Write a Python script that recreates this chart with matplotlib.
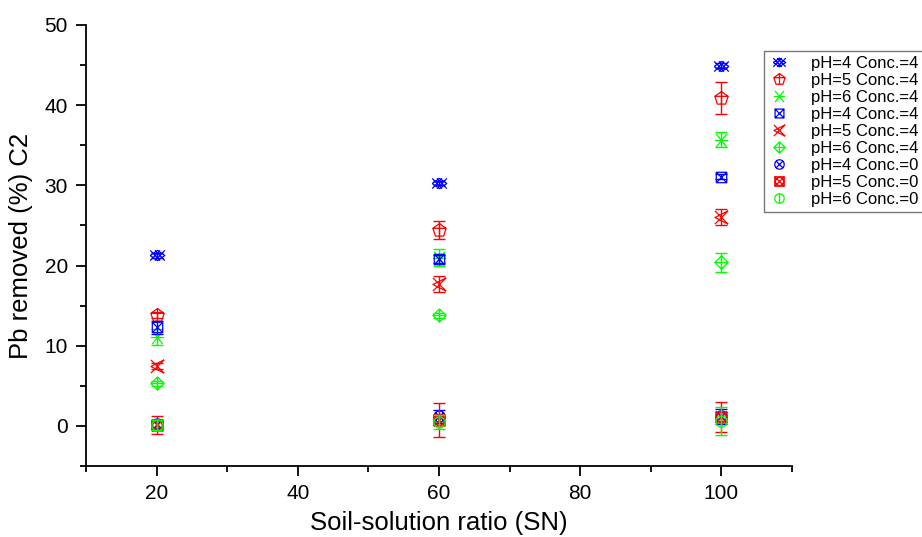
import numpy as np
import matplotlib
matplotlib.use("Agg")
import matplotlib.pyplot as plt
from matplotlib.path import Path
from matplotlib.lines import Line2D
from matplotlib.ticker import MultipleLocator

plt.rcParams['font.family'] = ['Liberation Sans', 'DejaVu Sans']

# --- data ---
ratio = [20, 60, 100]
labels = ['pH=4 Conc.=4', 'pH=5 Conc.=4', 'pH=6 Conc.=4',
          'pH=4 Conc.=4', 'pH=5 Conc.=4', 'pH=6 Conc.=4',
          'pH=4 Conc.=0', 'pH=5 Conc.=0', 'pH=6 Conc.=0']
pb_s1 = [21.3, 30.3, 44.9]
pb_s2 = [13.8, 24.4, 40.9]
pb_s3 = [11.1, 21.0, 35.7]
pb_s4 = [12.3, 20.8, 31.1]
pb_s5 = [7.5, 17.7, 26.1]
pb_s6 = [5.3, 13.8, 20.4]
pb_s7 = [0.2, 1.2, 1.2]
pb_s8 = [0.1, 0.7, 1.1]
pb_s9 = [0.1, 0.5, 0.6]
err_s1 = [0.3, 0.3, 0.3]
err_s2 = [0.4, 1.1, 2.0]
err_s3 = [1.0, 1.1, 0.9]
err_s4 = [0.8, 0.5, 0.3]
err_s5 = [0.4, 1.0, 1.0]
err_s6 = [0.3, 0.3, 1.2]
err_s7 = [0.4, 0.8, 0.9]
err_s8 = [1.1, 2.1, 1.9]
err_s9 = [0.6, 0.9, 1.7]


# --- marker shapes (Origin-like symbols) ---
def segs(lines):
    verts, codes = [], []
    for line in lines:
        for k, p in enumerate(line):
            verts.append(p)
            codes.append(Path.MOVETO if k == 0 else Path.LINETO)
    return Path(verts, codes)


def circle_pts(r=1.0, n=32):
    a = np.linspace(0, 2 * np.pi, n + 1)
    return list(zip(r * np.cos(a), r * np.sin(a)))


X = [[(-1, -1), (1, 1)], [(-1, 1), (1, -1)]]
sq = [[(-1, -1), (1, -1), (1, 1), (-1, 1), (-1, -1)]]

# double cross: two overlapping X's plus a flat diamond in the middle
m1 = segs([[(-1, -0.7), (0.35, 0.7)], [(-1, 0.7), (0.35, -0.7)],
           [(-0.35, -0.7), (1, 0.7)], [(-0.35, 0.7), (1, -0.7)],
           [(-1, 0), (0, 0.7), (1, 0), (0, -0.7), (-1, 0)]])
pent = [(np.cos(np.pi / 2 + 2 * np.pi * k / 5), np.sin(np.pi / 2 + 2 * np.pi * k / 5)) for k in range(6)]
m2 = segs([pent, [(0, 1), (0, -0.81)], [(-0.95, 0.31), (0.95, 0.31)]])
m3 = segs([[(-1, 0), (1, 0)], [(-0.8, -1), (0.8, 1)], [(-0.8, 1), (0.8, -1)]])
m4 = segs(sq + X)
m5 = segs(X + [[(1, 1), (-1, 0), (1, -1)]])
m6 = segs([[(0, 1), (1, 0), (0, -1), (-1, 0), (0, 1)], [(0, 1), (0, -1)], [(-1, 0), (1, 0)]])
m7 = segs([circle_pts(1.0)] + [[(-0.75, -0.75), (0.75, 0.75)], [(-0.75, 0.75), (0.75, -0.75)]])
m8 = segs(sq + X + [circle_pts(0.85)])
m9 = segs([circle_pts(1.0), [(0, 1), (0, -1)]])

blue, red, green = '#0000FF', '#FF0000', '#00FF00'
series = [
    (pb_s1, err_s1, m1, blue, 10.5),
    (pb_s2, err_s2, m2, red, 10),
    (pb_s3, err_s3, m3, green, 9.5),
    (pb_s4, err_s4, m4, blue, 7.5),
    (pb_s5, err_s5, m5, red, 9.5),
    (pb_s6, err_s6, m6, green, 9.5),
    (pb_s7, err_s7, m7, blue, 8),
    (pb_s8, err_s8, m8, red, 8),
    (pb_s9, err_s9, m9, green, 8),
]

fig = plt.figure(figsize=(9.22, 5.37), dpi=100)
ax = fig.add_axes([86 / 922, 1 - 466 / 537, (792 - 86) / 922, (466 - 25) / 537])

handles = []
for (vals, errs, mk, col, ms), lab in zip(series, labels):
    ax.errorbar(ratio, vals, yerr=errs, fmt='none', ecolor=col, elinewidth=1,
                capsize=4.5, capthick=1)
    ax.plot(ratio, vals, linestyle='none', marker=mk, markersize=ms,
            markerfacecolor='none', markeredgecolor=col, markeredgewidth=0.9)
    handles.append(Line2D([], [], linestyle='none', marker=mk, markersize=ms * 0.85,
                          markerfacecolor='none', markeredgecolor=col, markeredgewidth=0.9,
                          label=lab))

ax.set_xlim(10, 110)
ax.set_ylim(-5, 50)
ax.xaxis.set_minor_locator(MultipleLocator(10))
ax.yaxis.set_major_locator(MultipleLocator(10))
ax.yaxis.set_minor_locator(MultipleLocator(5))
ax.set_xticks([20, 40, 60, 80, 100])
ax.spines['top'].set_visible(False)
ax.spines['right'].set_visible(False)
for s in ['left', 'bottom']:
    ax.spines[s].set_linewidth(1.3)
ax.tick_params(which='major', direction='out', length=7, width=1.3, labelsize=15, pad=6)
ax.tick_params(which='minor', direction='out', length=4, width=1.3)

ax.set_xlabel('Soil-solution ratio (SN)', fontsize=18.5, labelpad=6)
ax.set_ylabel('Pb removed (%) C2', fontsize=18.5, labelpad=8)

leg = fig.legend(handles=handles, loc='upper left', bbox_to_anchor=(764 / 922, 1 - 51 / 537),
                 fontsize=12, frameon=True, fancybox=False, labelspacing=0.12,
                 handlelength=1.2, handletextpad=1.3, borderpad=0.3, borderaxespad=0)
leg.get_frame().set_edgecolor('#555555')
leg.get_frame().set_linewidth(1.0)

fig.savefig('out.png', dpi=100)
